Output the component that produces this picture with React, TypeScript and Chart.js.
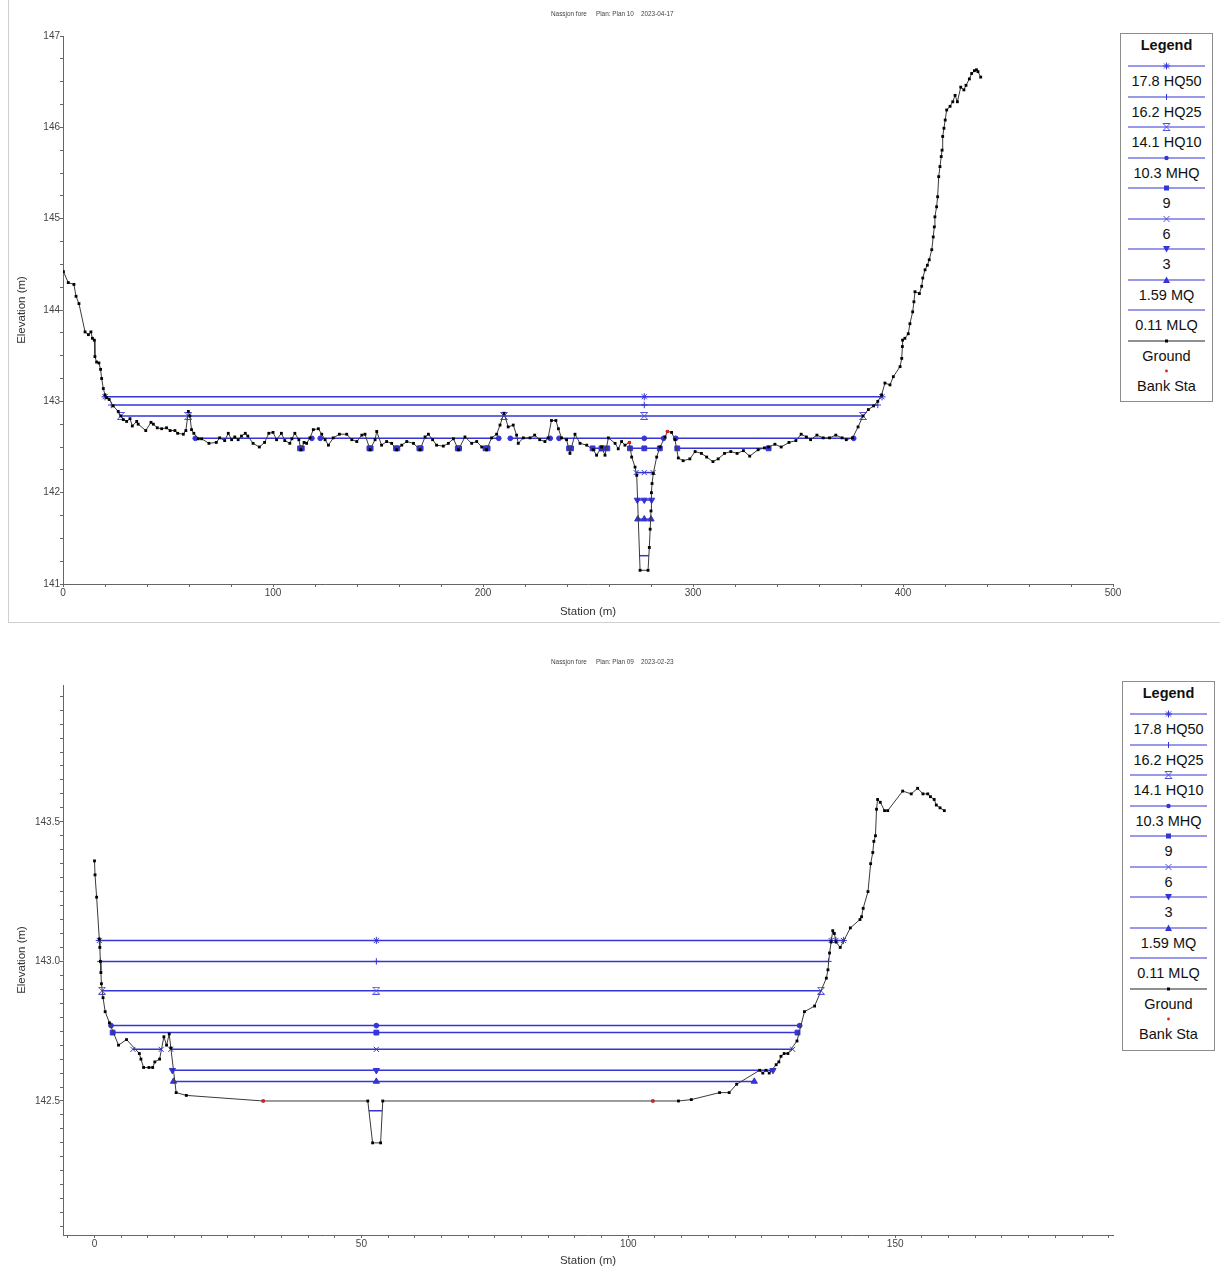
import React, { useEffect, useRef } from 'react';
import { Chart, registerables } from 'chart.js';
Chart.register(...registerables);

const FONT = '"Liberation Sans", Arial, sans-serif';
const WS = '#3434d8';
const GROUND = '#3a3a3a';

// ---- profiles (shared) ----
const profileNames = ['17.8 HQ50', '16.2 HQ25', '14.1 HQ10', '10.3 MHQ', '9', '6', '3', '1.59 MQ', '0.11 MLQ'];
const profileMarkers = ['star', 'cross', 'hourglass', 'circle', 'rect', 'crossRot', 'triDown', 'triangle', 'none'];

// ---- top section: Nassjon fore, Plan 10, 2023-04-17 ----
const topTitle = ['Nassjon fore', 'Plan: Plan 10', '2023-04-17'];
const topXRange = [0, 500];
const topYRange = [141, 147];
const topXMajor = 100, topXMinor = 20;
const topYMajor = 1, topYMinor = 0.25;

const topGround: [number, number][] = [
  [0.2, 144.42], [2.5, 144.3], [5.2, 144.28], [6.2, 144.15], [7.6, 144.07], [10.5, 143.76], [12.1, 143.73], [13.3, 143.76],
  [14.0, 143.69], [14.9, 143.67], [15.2, 143.49], [16.0, 143.43], [17.1, 143.42], [17.9, 143.35], [18.4, 143.25], [19.2, 143.14],
  [20.0, 143.07], [20.8, 143.04], [22.0, 143.02], [23.9, 142.95], [26.3, 142.89], [27.5, 142.84], [28.7, 142.8], [30.3, 142.78],
  [31.9, 142.81], [33.0, 142.73], [35.1, 142.78], [35.8, 142.75], [39.4, 142.68], [41.9, 142.77], [43.0, 142.75], [44.9, 142.71],
  [47.0, 142.7], [49.3, 142.71], [51.0, 142.68], [53.3, 142.68], [54.6, 142.65], [57.3, 142.64], [58.5, 142.68], [59.7, 142.89],
  [60.4, 142.84], [61.2, 142.69], [62.3, 142.65], [64.4, 142.59], [66.0, 142.59], [69.5, 142.54], [73.0, 142.55], [74.6, 142.6],
  [77.0, 142.57], [78.7, 142.65], [80.3, 142.58], [81.8, 142.61], [83.4, 142.58], [85.0, 142.62], [86.8, 142.65], [88.0, 142.62],
  [90.5, 142.54], [93.5, 142.5], [96.0, 142.55], [98.0, 142.65], [100.0, 142.66], [101.7, 142.58], [104.0, 142.65], [105.6, 142.57],
  [108.0, 142.54], [109.0, 142.59], [110.4, 142.65], [112.3, 142.58], [113.3, 142.47], [114.8, 142.55], [116.0, 142.54], [117.6, 142.6],
  [119.2, 142.69], [121.6, 142.7], [123.2, 142.64], [124.8, 142.58], [126.4, 142.52], [128.7, 142.6], [131.6, 142.64], [135.1, 142.64],
  [137.5, 142.58], [139.9, 142.56], [142.3, 142.63], [143.8, 142.64], [146.2, 142.47], [148.6, 142.58], [149.4, 142.67], [151.7, 142.52],
  [154.1, 142.56], [156.5, 142.54], [158.9, 142.47], [161.3, 142.52], [163.7, 142.56], [166.9, 142.54], [170.0, 142.47], [172.4, 142.61],
  [174.0, 142.64], [176.0, 142.58], [177.9, 142.52], [181.1, 142.51], [183.5, 142.54], [185.9, 142.59], [188.3, 142.47], [191.4, 142.61],
  [194.6, 142.54], [197.0, 142.56], [199.4, 142.5], [201.7, 142.47], [204.1, 142.6], [206.5, 142.64], [208.1, 142.74], [210.0, 142.87],
  [212.0, 142.72], [214.4, 142.74], [216.0, 142.63], [216.8, 142.54], [219.2, 142.6], [222.4, 142.6], [224.6, 142.63], [227.0, 142.58],
  [229.5, 142.56], [231.0, 142.6], [232.6, 142.79], [234.7, 142.79], [235.9, 142.7], [237.4, 142.6], [239.8, 142.58], [241.4, 142.43],
  [243.8, 142.64], [246.2, 142.54], [249.4, 142.52], [252.5, 142.47], [254.1, 142.41], [256.5, 142.5], [258.1, 142.41], [259.7, 142.6],
  [262.9, 142.54], [264.4, 142.48], [266.0, 142.56], [267.6, 142.52], [269.7, 142.55], [270.8, 142.39], [272.4, 142.28], [273.2, 142.19],
  [274.8, 141.15], [278.6, 141.15], [279.2, 141.4], [279.6, 141.6], [280.0, 141.8], [280.2, 142.0], [280.5, 142.1], [281.1, 142.21],
  [282.7, 142.39], [284.3, 142.5], [286.7, 142.61], [287.8, 142.67], [289.8, 142.66], [291.4, 142.58], [293.0, 142.38], [295.3, 142.35],
  [298.5, 142.37], [301.0, 142.45], [304.0, 142.43], [306.5, 142.39], [309.5, 142.34], [312.0, 142.37], [315.0, 142.43], [318.0, 142.45],
  [321.0, 142.43], [324.0, 142.46], [327.0, 142.4], [331.0, 142.47], [334.0, 142.49], [336.0, 142.5], [339.0, 142.53], [342.0, 142.5],
  [345.7, 142.55], [349.0, 142.57], [351.5, 142.64], [354.0, 142.61], [356.0, 142.58], [359.0, 142.63], [362.0, 142.6], [365.0, 142.6],
  [368.0, 142.63], [371.0, 142.6], [373.0, 142.58], [376.0, 142.6], [378.6, 142.72], [381.0, 142.84], [383.5, 142.91], [386.0, 142.95],
  [388.0, 143.0], [389.8, 143.07], [391.4, 143.2], [393.8, 143.18], [395.4, 143.27], [398.6, 143.38], [399.4, 143.47], [399.7, 143.6],
  [399.8, 143.67], [400.9, 143.69], [402.5, 143.74], [403.3, 143.85], [404.6, 143.98], [405.2, 144.09], [405.7, 144.2], [407.8, 144.18],
  [408.9, 144.26], [409.4, 144.35], [410.5, 144.44], [411.6, 144.49], [412.5, 144.55], [413.7, 144.66], [414.4, 144.8], [414.9, 144.91],
  [415.2, 145.02], [416.0, 145.13], [416.5, 145.24], [417.0, 145.46], [417.6, 145.57], [418.2, 145.68], [418.6, 145.75], [418.9, 145.9],
  [419.5, 145.99], [420.1, 146.08], [420.8, 146.19], [422.4, 146.23], [423.7, 146.28], [424.8, 146.35], [425.9, 146.28], [427.5, 146.44],
  [429.0, 146.41], [430.0, 146.46], [431.6, 146.53], [432.7, 146.59], [434.0, 146.62], [435.0, 146.63], [435.7, 146.61], [437.0, 146.55],
];
const topBankStation = [269.7, 287.8];
const topBankElev = [142.55, 142.67];
const topWsElev = [143.05, 142.96, 142.84, 142.595, 142.485, 142.22, 141.92, 141.71, 141.31];
const topWsStations: (number | null)[][] = [
  [20, 276.8, 390],
  [23, 276.8, 388],
  [27.5, 59.7, 210, 276.8, 381],
  [63, 118.5, null, 122.5, 207.5, null, 213, 232, null, 236.2, 276.8, 286, null, 291.8, 376.5],
  [112.9, 113.7, null, 145.9, 146.5, null, 158.6, 159.2, null, 169.7, 170.3, null, 188, 188.6, null, 201.2, 202.2, null,
    241, 241.9, null, 252.2, 256.4, null, 256.8, 259.2, null, 270, 276.8, 284.2, null, 292.5, 336],
  [272.9, 276.8, 281],
  [273.5, 276.8, 280.3],
  [273.7, 276.8, 280],
  [274.3, 279],
];

// ---- bottom section: Nassjon fore, Plan 09, 2023-02-23 ----
const botTitle = ['Nassjon fore', 'Plan: Plan 09', '2023-02-23'];
const botXRange = [-5.9, 190.8];
const botYRange = [142.02, 143.99];
const botXMajor = 50, botXMinor = 5;
const botYMajor = 0.5, botYMinor = 0.05;

const botGround: [number, number][] = [
  [0.0, 143.36], [0.1, 143.31], [0.4, 143.23], [0.9, 143.08], [1.0, 143.05], [1.1, 143.0], [1.2, 142.96], [1.3, 142.92],
  [1.6, 142.87], [2.0, 142.82], [2.8, 142.78], [4.5, 142.7], [6.0, 142.72], [8.4, 142.67], [8.7, 142.65], [9.2, 142.62],
  [10.2, 142.62], [10.9, 142.62], [11.3, 142.64], [12.2, 142.65], [13.0, 142.73], [13.5, 142.7], [14.0, 142.74], [14.3, 142.69],
  [15.3, 142.53], [17.2, 142.52], [31.6, 142.5], [51.2, 142.5], [52.1, 142.35], [53.6, 142.35], [54.0, 142.5], [104.6, 142.5],
  [109.4, 142.5], [111.8, 142.505], [117.1, 142.53], [118.9, 142.53], [120.3, 142.56], [124.6, 142.61], [125.2, 142.6], [125.8, 142.61],
  [126.4, 142.6], [127.7, 142.63], [128.2, 142.64], [128.6, 142.66], [129.2, 142.67], [129.9, 142.67], [131.6, 142.715], [133.0, 142.82],
  [134.9, 142.84], [137.1, 142.94], [137.4, 142.97], [137.7, 143.03], [138.0, 143.07], [138.3, 143.11], [138.6, 143.1], [138.9, 143.07],
  [139.7, 143.05], [141.6, 143.12], [143.4, 143.15], [143.7, 143.16], [144.0, 143.19], [144.9, 143.25], [145.4, 143.35], [145.8, 143.39],
  [146.0, 143.43], [146.3, 143.45], [146.5, 143.545], [146.7, 143.58], [147.2, 143.57], [148.0, 143.54], [148.6, 143.54], [151.4, 143.61],
  [153.0, 143.6], [154.2, 143.62], [155.2, 143.6], [156.1, 143.6], [156.6, 143.59], [157.3, 143.58], [157.7, 143.56], [158.4, 143.55],
  [159.2, 143.54],
];
const botBankStation = [31.6, 104.6];
const botBankElev = [142.5, 142.5];
const botWsElev = [143.075, 143.0, 142.895, 142.77, 142.745, 142.685, 142.61, 142.57, 142.465];
const botWsStations: (number | null)[][] = [
  [0.9, 52.8, 138.0, null, 138.9, 140.3],
  [1.1, 52.8, 137.5],
  [1.4, 52.8, 136.1],
  [3.1, 52.8, 132.1],
  [3.4, 52.8, 131.7],
  [7.2, 12.5, null, 14.3, 52.8, 130.8],
  [14.6, 52.8, 127.1],
  [14.8, 52.8, 123.6],
  [51.4, 53.9],
];

// ---------------------------------------------------------------
function hourglassCanvas(color: string) {
  const c = document.createElement('canvas');
  c.width = 8; c.height = 8;
  const g = c.getContext('2d')!;
  g.strokeStyle = color; g.lineWidth = 1;
  g.beginPath();
  g.moveTo(0.5, 0.5); g.lineTo(7.5, 0.5); g.lineTo(0.5, 7.5); g.lineTo(7.5, 7.5); g.closePath();
  g.stroke();
  return c;
}

function tickList(min: number, max: number, step: number) {
  const out: { value: number }[] = [];
  const start = Math.ceil(min / step - 1e-9);
  const end = Math.floor(max / step + 1e-9);
  for (let k = start; k <= end; k++) out.push({ value: +(k * step).toFixed(6) });
  return out;
}

function isMajor(v: number, major: number) {
  const q = v / major;
  return Math.abs(q - Math.round(q)) < 1e-6;
}

type SectionCfg = {
  ground: [number, number][];
  bankSt: number[]; bankEl: number[];
  wsSt: (number | null)[][]; wsEl: number[];
  xRange: number[]; yRange: number[];
  xMajor: number; xMinor: number; yMajor: number; yMinor: number;
  yDecimals: number;
  height: number; padTop: number; xAxisH: number; xTitlePad: number;
};

function buildDatasets(cfg: SectionCfg, hg: HTMLCanvasElement) {
  const ds: any[] = [];
  // first dataset is drawn on top
  ds.push({
    label: 'Bank Sta',
    data: cfg.bankSt.map((x, i) => ({ x, y: cfg.bankEl[i] })),
    showLine: false, pointStyle: 'circle', pointRadius: 1.8, pointBackgroundColor: '#e02020', pointBorderColor: '#e02020', pointBorderWidth: 0,
  });
  ds.push({
    label: 'Ground',
    data: cfg.ground.map(([x, y]) => ({ x, y })),
    showLine: true, borderColor: GROUND, borderWidth: 1,
    pointStyle: 'rect', pointRadius: 2, pointBackgroundColor: '#000', pointBorderColor: '#000', pointBorderWidth: 0,
  });
  cfg.wsSt.forEach((sts, i) => {
    const data: any[] = [];
    let last = 0;
    sts.forEach((s) => {
      if (s === null) data.push({ x: last, y: null });
      else { data.push({ x: s, y: cfg.wsEl[i] }); last = s; }
    });
    const kind = profileMarkers[i];
    let style: any = kind, rot = 0, r = 3.2;
    if (kind === 'hourglass') { style = hg; r = 4; }
    if (kind === 'triDown') { style = 'triangle'; rot = 180; r = 3.6; }
    if (kind === 'triangle') r = 3.6;
    if (kind === 'circle') r = 2.4;
    if (kind === 'rect') r = 3.4;
    if (kind === 'star') r = 3.6;
    if (kind === 'crossRot') r = 3.6;
    if (kind === 'none') { style = 'circle'; r = 0; }
    ds.push({
      label: profileNames[i], data, showLine: true, spanGaps: false,
      borderColor: WS, borderWidth: 1.5,
      pointStyle: style, pointRotation: rot, pointRadius: r, pointHoverRadius: r,
      pointBackgroundColor: WS, pointBorderColor: WS, pointBorderWidth: 1,
    });
  });
  return ds;
}

function buildConfig(cfg: SectionCfg, hg: HTMLCanvasElement): any {
  const tickFont = { family: FONT, size: 10 };
  const titleFont = { family: FONT, size: 11.5 };
  return {
    type: 'scatter',
    data: { datasets: buildDatasets(cfg, hg) },
    options: {
      responsive: false,
      animation: false,
      events: [],
      layout: { padding: { left: 8, right: 107, top: cfg.padTop, bottom: 0 } },
      plugins: { legend: { display: false }, tooltip: { enabled: false }, title: { display: false } },
      scales: {
        x: {
          type: 'linear', position: 'bottom', min: cfg.xRange[0], max: cfg.xRange[1],
          afterBuildTicks: (s: any) => { s.ticks = tickList(cfg.xRange[0], cfg.xRange[1], cfg.xMinor); },
          afterFit: (s: any) => { s.height = cfg.xAxisH; },
          ticks: {
            autoSkip: false, maxRotation: 0, minRotation: 0, padding: 0, color: '#444', font: tickFont,
            callback: (v: number) => (isMajor(v, cfg.xMajor) ? String(Math.round(v)) : ''),
          },
          grid: { drawOnChartArea: false, drawTicks: true, tickLength: 3, color: '#666' },
          border: { display: true, color: '#666', width: 1 },
          title: { display: true, text: 'Station (m)', color: '#333', font: titleFont, padding: { top: 0, bottom: cfg.xTitlePad } },
        },
        y: {
          type: 'linear', position: 'left', min: cfg.yRange[0], max: cfg.yRange[1],
          afterBuildTicks: (s: any) => { s.ticks = tickList(cfg.yRange[0], cfg.yRange[1], cfg.yMinor); },
          afterFit: (s: any) => { s.width = 55; },
          ticks: {
            autoSkip: false, padding: 0, color: '#444', font: tickFont,
            callback: (v: number) => (isMajor(v, cfg.yMajor) ? v.toFixed(cfg.yDecimals) : ''),
          },
          grid: { drawOnChartArea: false, drawTicks: true, tickLength: 3, color: '#666' },
          border: { display: true, color: '#666', width: 1 },
          title: { display: true, text: 'Elevation (m)', color: '#333', font: titleFont, padding: { top: 7, bottom: 0 } },
        },
      },
    },
  };
}

function SectionChart({ cfg, top }: { cfg: SectionCfg; top: number }) {
  const ref = useRef<HTMLCanvasElement>(null);
  useEffect(() => {
    const hg = hourglassCanvas('#5050e0');
    const chart = new Chart(ref.current!, buildConfig(cfg, hg));
    return () => chart.destroy();
  }, []);
  return <canvas ref={ref} width={1220} height={cfg.height} style={{ position: 'absolute', left: 0, top, width: 1220, height: cfg.height }} />;
}

function Marker({ kind, cx, cy }: { kind: string; cx: number; cy: number }) {
  const c = WS;
  switch (kind) {
    case 'star':
      return (
        <g stroke={c} strokeWidth={1}>
          <line x1={cx - 3.5} y1={cy} x2={cx + 3.5} y2={cy} />
          <line x1={cx} y1={cy - 3.5} x2={cx} y2={cy + 3.5} />
          <line x1={cx - 2.5} y1={cy - 2.5} x2={cx + 2.5} y2={cy + 2.5} />
          <line x1={cx - 2.5} y1={cy + 2.5} x2={cx + 2.5} y2={cy - 2.5} />
        </g>
      );
    case 'cross':
      return <line x1={cx} y1={cy - 3} x2={cx} y2={cy + 3} stroke={c} strokeWidth={1} />;
    case 'hourglass':
      return <path d={`M${cx - 3.5} ${cy - 3.5} L${cx + 3.5} ${cy - 3.5} L${cx - 3.5} ${cy + 3.5} L${cx + 3.5} ${cy + 3.5} Z`} fill="none" stroke="#5050e0" strokeWidth={1} />;
    case 'circle':
      return <circle cx={cx} cy={cy} r={2.2} fill={c} />;
    case 'rect':
      return <rect x={cx - 2.5} y={cy - 2.5} width={5} height={5} fill={c} />;
    case 'crossRot':
      return (
        <g stroke="#5050e0" strokeWidth={1}>
          <line x1={cx - 3} y1={cy - 3} x2={cx + 3} y2={cy + 3} />
          <line x1={cx - 3} y1={cy + 3} x2={cx + 3} y2={cy - 3} />
        </g>
      );
    case 'triDown':
      return <polygon points={`${cx - 3.5},${cy - 3} ${cx + 3.5},${cy - 3} ${cx},${cy + 3.5}`} fill={c} />;
    case 'triangle':
      return <polygon points={`${cx - 3.5},${cy + 3} ${cx + 3.5},${cy + 3} ${cx},${cy - 3.5}`} fill={c} />;
    case 'dot':
      return <rect x={cx - 1.5} y={cy - 1.5} width={3} height={3} fill="#000" />;
    case 'bank':
      return <circle cx={cx} cy={cy} r={1.4} fill="#e02020" />;
    default:
      return null;
  }
}

function Legend({ left, top, height }: { left: number; top: number; height: number }) {
  const pitch = 30.5;
  const items = [
    ...profileNames.map((n, i) => ({ label: n, kind: profileMarkers[i], line: WS as string | null })),
    { label: 'Ground', kind: 'dot', line: '#222' },
    { label: 'Bank Sta', kind: 'bank', line: null },
  ];
  return (
    <div style={{ position: 'absolute', left, top, width: 93, height, border: '1px solid #8c8c8c', boxSizing: 'border-box', background: '#fff', fontFamily: FONT, color: '#111' }}>
      <div style={{ position: 'absolute', left: 0, top: 2, width: '100%', textAlign: 'center', fontWeight: 'bold', fontSize: 14.5, lineHeight: '18px' }}>Legend</div>
      {items.map((it, i) => {
        const ly = 32 + i * pitch;
        return (
          <React.Fragment key={i}>
            <svg style={{ position: 'absolute', left: 6, top: ly - 5 }} width={79} height={10}>
              {it.line && <line x1={1} y1={5} x2={78} y2={5} stroke={it.line} strokeWidth={1.2} />}
              <Marker kind={it.kind} cx={39.5} cy={5} />
            </svg>
            <div style={{ position: 'absolute', left: 0, width: '100%', top: ly + 6, textAlign: 'center', fontSize: 14.5, lineHeight: '18px', whiteSpace: 'nowrap' }}>{it.label}</div>
          </React.Fragment>
        );
      })}
    </div>
  );
}

function SmallTitle({ parts, top }: { parts: string[]; top: number }) {
  return (
    <div style={{ position: 'absolute', left: 551, top, fontFamily: FONT, fontSize: 6.4, color: '#444', whiteSpace: 'nowrap', lineHeight: '8px' }}>
      <span>{parts[0]}</span>
      <span style={{ marginLeft: 9 }}>{parts[1]}</span>
      <span style={{ marginLeft: 7 }}>{parts[2]}</span>
    </div>
  );
}

const topCfg: SectionCfg = {
  ground: topGround, bankSt: topBankStation, bankEl: topBankElev, wsSt: topWsStations, wsEl: topWsElev,
  xRange: topXRange, yRange: topYRange, xMajor: topXMajor, xMinor: topXMinor, yMajor: topYMajor, yMinor: topYMinor,
  yDecimals: 0, height: 622, padTop: 36, xAxisH: 38, xTitlePad: 3,
};
const botCfg: SectionCfg = {
  ground: botGround, bankSt: botBankStation, bankEl: botBankElev, wsSt: botWsStations, wsEl: botWsElev,
  xRange: botXRange, yRange: botYRange, xMajor: botXMajor, xMinor: botXMinor, yMajor: botYMajor, yMinor: botYMinor,
  yDecimals: 1, height: 628, padTop: 45, xAxisH: 33, xTitlePad: 0,
};

export default function App() {
  return (
    <div style={{ position: 'absolute', left: 0, top: 0, width: 1220, height: 1268, background: '#fff', overflow: 'hidden' }}>
      <div style={{ position: 'absolute', left: 8, top: 0, width: 1212, height: 622, borderLeft: '1px solid #cfcfcf', borderBottom: '1px solid #cfcfcf' }} />
      <SectionChart cfg={topCfg} top={0} />
      <SmallTitle parts={topTitle} top={10} />
      <Legend left={1120} top={33} height={369} />
      <SectionChart cfg={botCfg} top={640} />
      <SmallTitle parts={botTitle} top={658} />
      <Legend left={1122} top={681} height={370} />
    </div>
  );
}
